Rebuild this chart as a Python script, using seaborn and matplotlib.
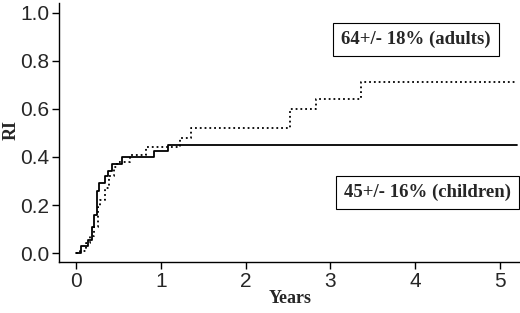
import pandas as pd
import matplotlib.pyplot as plt
import seaborn as sns

# Step data (time in years, cumulative RI)
children_t = [0.0, 0.06, 0.14, 0.18, 0.21, 0.24, 0.27, 0.34, 0.37, 0.42, 0.54, 0.92, 1.08, 5.2]
children_ri = [0.0, 0.028, 0.056, 0.11, 0.16, 0.26, 0.29, 0.32, 0.34, 0.37, 0.40, 0.425, 0.45, 0.45]

adults_t = [0.0, 0.04, 0.11, 0.16, 0.21, 0.25, 0.28, 0.34, 0.39, 0.44, 0.48, 0.63, 0.82,
            1.22, 1.35, 2.52, 2.83, 3.36, 5.2]
adults_ri = [0.0, 0.01, 0.04, 0.07, 0.11, 0.19, 0.22, 0.27, 0.32, 0.36, 0.38, 0.41, 0.44,
             0.48, 0.52, 0.60, 0.64, 0.71, 0.71]

x_ticks = [0, 1, 2, 3, 4, 5]
y_ticks = [0.0, 0.2, 0.4, 0.6, 0.8, 1.0]

df_child = pd.DataFrame({"Years": children_t, "RI": children_ri})
df_adult = pd.DataFrame({"Years": adults_t, "RI": adults_ri})

sns.set_style("ticks")
plt.rcParams['font.family'] = ['Liberation Sans', 'DejaVu Sans']

fig = plt.figure(figsize=(5.2, 3.13), dpi=100)
ax = fig.add_axes([0.1135, 0.163, 0.8865, 0.827])

sns.lineplot(data=df_child, x="Years", y="RI", estimator=None, drawstyle="steps-post",
             color="black", linewidth=1.3, ax=ax)
sns.lineplot(data=df_adult, x="Years", y="RI", estimator=None, drawstyle="steps-post",
             color="black", linewidth=1.3, linestyle=":", ax=ax)

ax.set_xlim(-0.205, 5.24)
ax.set_ylim(-0.037, 1.04)
ax.set_xticks(x_ticks)
ax.set_xticklabels([str(v) for v in x_ticks])
ax.set_yticks(y_ticks)
ax.set_yticklabels([f"{v:.1f}" for v in y_ticks])
ax.tick_params(labelsize=15, length=5, width=1, color="black", pad=2)
for s in ["top", "right"]:
    ax.spines[s].set_visible(False)
for s in ["left", "bottom"]:
    ax.spines[s].set_color("black")
    ax.spines[s].set_linewidth(1)

ax.set_xlabel("Years", family="Liberation Serif", fontweight="bold", fontsize=13, va="center")
ax.set_ylabel("RI", family="Liberation Serif", fontweight="bold", fontsize=13, va="center")
ax.xaxis.set_label_coords(0.502, -0.143)
ax.yaxis.set_label_coords(-0.103, 0.51)

box = dict(boxstyle="square,pad=0.42", facecolor="white", edgecolor="black", linewidth=0.8)
ax.text(4.01, 0.89, "64+/- 18% (adults)", ha="center", va="center", family="Liberation Serif",
        fontweight="bold", fontsize=13.5, bbox=box)
ax.text(4.15, 0.253, "45+/- 16% (children)", ha="center", va="center", family="Liberation Serif",
        fontweight="bold", fontsize=13.5, bbox=box, clip_on=False)

fig.savefig("out.png", dpi=100)
